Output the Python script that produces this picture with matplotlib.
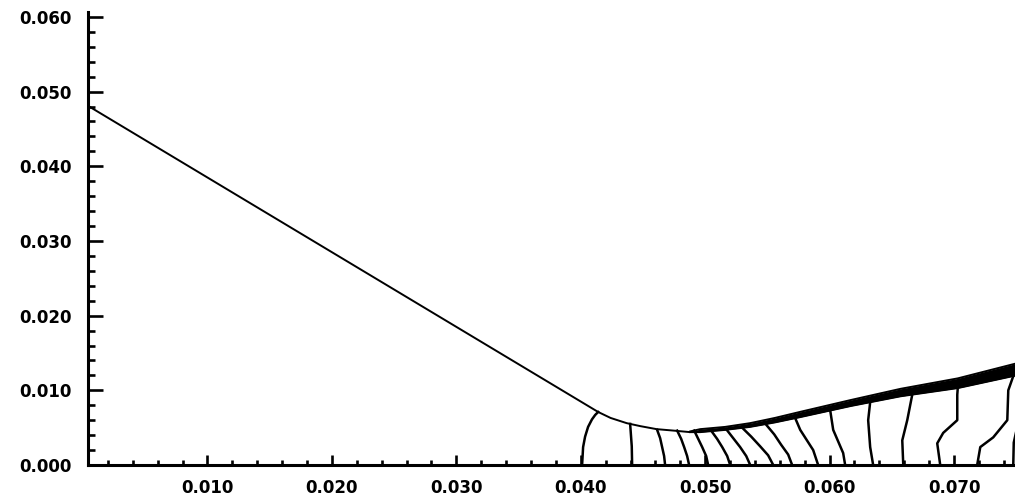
import matplotlib
matplotlib.use('Agg')
import matplotlib.pyplot as plt
from matplotlib.ticker import MultipleLocator, FormatStrFormatter

# free surface, single line part
surf_x = [0.0004, 0.0405, 0.0414, 0.0424, 0.0437, 0.0448, 0.0461, 0.0475, 0.0488]
surf_y = [0.0481, 0.0080, 0.0071, 0.0063, 0.0056, 0.0052, 0.0048, 0.0046, 0.0044]

# thick bundle of surface lines on the right
band_x = [0.0488, 0.0496, 0.0516, 0.0536, 0.0556, 0.0576, 0.0617, 0.0657, 0.0703, 0.0750]
band_top = [0.0045, 0.0048, 0.0051, 0.0056, 0.0063, 0.0071, 0.0087, 0.0102, 0.0116, 0.0136]
band_bot = [0.0044, 0.0044, 0.0047, 0.0051, 0.0057, 0.0064, 0.0079, 0.0092, 0.0103, 0.0120]

# contour lines from the base up to the surface
contours_x = [
    [0.04011, 0.04015, 0.04019, 0.04035, 0.04059, 0.04090, 0.04116, 0.04140],
    [0.04413, 0.04410, 0.04397],
    [0.04678, 0.04670, 0.04654, 0.04638, 0.04614],
    [0.04871, 0.04855, 0.04831, 0.04807, 0.04775],
    [0.05024, 0.05008, 0.04976, 0.04944, 0.04912],
    [0.05201, 0.05177, 0.05137, 0.05096, 0.05048],
    [0.05362, 0.05330, 0.05281, 0.05225, 0.05169],
    [0.05547, 0.05506, 0.05442, 0.05370, 0.05297],
    [0.05699, 0.05667, 0.05611, 0.05555, 0.05490],
    [0.05908, 0.05868, 0.05764, 0.05723],
    [0.06125, 0.06109, 0.06029, 0.06005],
    [0.06350, 0.06326, 0.06310, 0.06326],
    [0.06592, 0.06584, 0.06624, 0.06664],
    [0.06889, 0.06865, 0.06913, 0.07026, 0.07026, 0.07030],
    [0.07186, 0.07211, 0.07315, 0.07428, 0.07436, 0.07476],
    [0.07476, 0.07480, 0.07520],
]
contours_y = [
    [0.0, 0.0012, 0.0024, 0.0038, 0.0051, 0.0061, 0.0067, 0.0071],
    [0.0, 0.0025, 0.0055],
    [0.0, 0.0012, 0.0024, 0.0036, 0.0047],
    [0.0, 0.0012, 0.0024, 0.0035, 0.0046],
    [0.0, 0.0012, 0.0024, 0.0035, 0.0046],
    [0.0, 0.0012, 0.0024, 0.0035, 0.0046],
    [0.0, 0.0012, 0.0024, 0.0036, 0.0048],
    [0.0, 0.0013, 0.0025, 0.0038, 0.0050],
    [0.0, 0.0014, 0.0027, 0.0041, 0.0054],
    [0.0, 0.0020, 0.0047, 0.0063],
    [0.0, 0.0016, 0.0047, 0.0073],
    [0.0, 0.0024, 0.0060, 0.0084],
    [0.0, 0.0033, 0.0060, 0.0094],
    [0.0, 0.0029, 0.0043, 0.0060, 0.0094, 0.0103],
    [0.0, 0.0024, 0.0037, 0.0060, 0.0100, 0.0119],
    [0.0, 0.0030, 0.0060],
]

fig = plt.figure(figsize=(10.15, 4.97), dpi=100)
ax = fig.add_axes([0.0867, 0.0644, 0.9133, 0.9105])

ax.plot(surf_x, surf_y, color='black', lw=1.4, solid_capstyle='butt')
ax.fill_between(band_x, band_bot, band_top, color='black', lw=0)
ax.plot(band_x, band_top, color='black', lw=1.4)
ax.plot(band_x, band_bot, color='black', lw=1.4)
for cx, cy in zip(contours_x, contours_y):
    ax.plot(cx, cy, color='black', lw=1.8)

ax.set_xlim(0.0004, 0.0749)
ax.set_ylim(0, 0.0606)

for s in ['top', 'right']:
    ax.spines[s].set_visible(False)
for s in ['left', 'bottom']:
    ax.spines[s].set_linewidth(2.2)

ax.xaxis.set_major_locator(MultipleLocator(0.01))
ax.xaxis.set_minor_locator(MultipleLocator(0.002))
ax.yaxis.set_major_locator(MultipleLocator(0.01))
ax.yaxis.set_minor_locator(MultipleLocator(0.002))
ax.xaxis.set_major_formatter(FormatStrFormatter('%.3f'))
ax.yaxis.set_major_formatter(FormatStrFormatter('%.3f'))

ax.tick_params(axis='y', which='major', direction='in', length=11, width=1.9, pad=12)
ax.tick_params(axis='y', which='minor', direction='in', length=5, width=1.9)
ax.tick_params(axis='x', which='major', direction='in', length=7, width=1.9, pad=10)
ax.tick_params(axis='x', which='minor', direction='in', length=3.5, width=1.9)

for lab in ax.get_xticklabels() + ax.get_yticklabels():
    lab.set_fontsize(12)
    lab.set_fontweight('bold')

fig.savefig('out.png', dpi=100)
